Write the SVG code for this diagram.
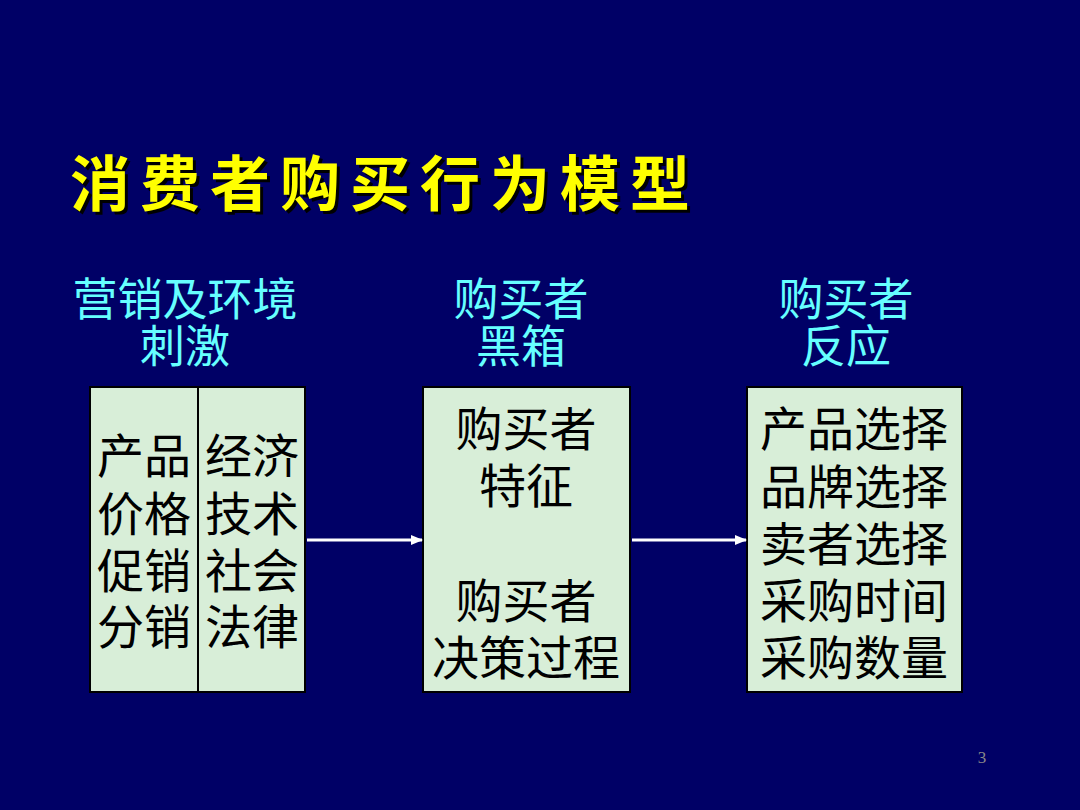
<svg xmlns="http://www.w3.org/2000/svg" width="1080" height="810" viewBox="0 0 1080 810">
<style>
.t{font-family:"Liberation Serif","Noto Sans CJK SC",serif}
.h{font-family:"Liberation Sans","Noto Sans CJK SC",sans-serif;font-size:45px;fill:#66ffff;text-anchor:middle}
.b{font-family:"Liberation Serif","Noto Sans CJK SC",serif;font-size:47px;fill:#000;text-anchor:middle}
.box{fill:#d8eed8;stroke:#000;stroke-width:2}
</style>
<defs><marker id="a" markerWidth="12" markerHeight="10" refX="11" refY="5" orient="auto" markerUnits="userSpaceOnUse"><path d="M0,0L12,5L0,10z" fill="#fff"/></marker></defs>
<rect width="1080" height="810" fill="#000066"/>
<g id="title"><text x="73" y="209" class="t" font-size="60" font-weight="bold" fill="#000" letter-spacing="10">消费者购买行为模型</text><text x="70" y="206" class="t" font-size="60" font-weight="bold" fill="#ffff00" letter-spacing="10">消费者购买行为模型</text></g>
<g id="h1"><text class="h" x="185" y="316">营销及环境</text><text class="h" x="185" y="363">刺激</text></g>
<g id="h2"><text class="h" x="521" y="316">购买者</text><text class="h" x="521" y="363">黑箱</text></g>
<g id="h3"><text class="h" x="846" y="316">购买者</text><text class="h" x="846" y="363">反应</text></g>
<g id="n1"><rect class="box" x="90" y="387" width="215" height="305"/><line x1="198" y1="387" x2="198" y2="692" stroke="#000" stroke-width="2"/>
<text class="b" x="144" y="473">产品</text><text class="b" x="144" y="531">价格</text><text class="b" x="144" y="588">促销</text><text class="b" x="144" y="644">分销</text>
<text class="b" x="252" y="473">经济</text><text class="b" x="252" y="531">技术</text><text class="b" x="252" y="588">社会</text><text class="b" x="252" y="644">法律</text></g>
<g id="n2"><rect class="box" x="423" y="387" width="207" height="305"/>
<text class="b" x="526" y="446">购买者</text><text class="b" x="526" y="503">特征</text><text class="b" x="526" y="618">购买者</text><text class="b" x="526" y="675">决策过程</text></g>
<g id="n3"><rect class="box" x="747" y="387" width="215" height="305"/>
<text class="b" x="854" y="446">产品选择</text><text class="b" x="854" y="504">品牌选择</text><text class="b" x="854" y="561">卖者选择</text><text class="b" x="854" y="618">采购时间</text><text class="b" x="854" y="675">采购数量</text></g>
<g id="connectors" stroke="#fff" stroke-width="3"><line x1="307" y1="540" x2="422" y2="540" marker-end="url(#a)"/><line x1="632" y1="540" x2="746" y2="540" marker-end="url(#a)"/></g>
<text x="982" y="763" font-family="Liberation Serif,serif" font-size="17" fill="#888" text-anchor="middle">3</text>
</svg>
